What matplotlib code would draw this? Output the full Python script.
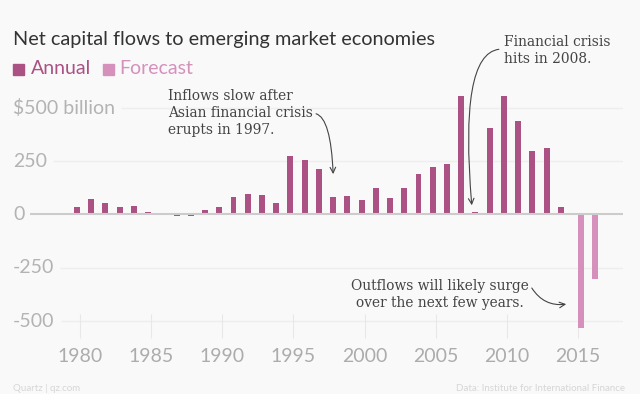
import matplotlib
matplotlib.use("Agg")
import matplotlib.pyplot as plt
from matplotlib.patches import Rectangle
import numpy as np

# net capital flows, $ billion
years = list(range(1980, 2015))
annual = [36, 71, 54, 34, 40, 9, 2, -6, -9, 20,
          36, 81, 96, 93, 53, 276, 253, 214, 82, 85,
          67, 126, 75, 124, 188, 220, 236, 557, 9, 404,
          554, 436, 298, 312, 33]
fc_years = [2015, 2016]
forecast = [-534, -304]

yticks = [500, 250, 0, -250, -500]
ytick_labels = ["$500 billion", "250", "0", "-250", "-500"]
xticks = [1980, 1985, 1990, 1995, 2000, 2005, 2010, 2015]

c_annual = "#ab5184"
c_fc = "#d590bc"
bg = "#f9f9f9"
grey = "#acacac"
sans = "Lato"
serif = "DejaVu Serif"

fig = plt.figure(figsize=(6.4, 3.94), dpi=100, facecolor=bg)
ax = fig.add_axes([30/640, 1-338/394, 593/640, 258/394], facecolor=bg)

w = 0.42
ax.bar(np.array(years) - w/2, annual, width=w, color=c_annual, zorder=3)
ax.bar(np.array(fc_years) + w/2, forecast, width=w, color=c_fc, zorder=3)

ax.set_xlim(1976.49, 2018.16)
ax.set_ylim(-579.5, 630.3)
for s in ax.spines.values():
    s.set_visible(False)
ax.set_yticks([])
ax.set_xticks(xticks)
ax.set_xticklabels([str(x) for x in xticks], fontfamily=sans,
                   fontsize=14, color=grey)
ax.tick_params(axis="x", direction="in", length=17, width=0.8, color="#e8e8e8", pad=7)

# y labels sit left, gridlines start after them
fig.canvas.draw()
r = fig.canvas.get_renderer()
inv = ax.transData.inverted()
tr = matplotlib.transforms.blended_transform_factory(fig.transFigure, ax.transData)
for v, lab in zip(yticks, ytick_labels):
    t = fig.text(13/640, v, lab, fontfamily=sans, fontsize=14,
                 color="#b3b3b3", va="center", ha="left", transform=tr)
    bb = t.get_window_extent(r)
    x0 = inv.transform((bb.x1 + 6, 0))[0]
    if v == 0:
        ax.hlines(v, ax.get_xlim()[0], ax.get_xlim()[1], color="#cccccc", lw=1.5, zorder=4)
    else:
        ax.hlines(v, x0, ax.get_xlim()[1], color="#eeeeee", lw=1, zorder=1)

fig.text(13/640, 1-40/394, "Net capital flows to emerging market economies",
         fontfamily=sans, fontsize=14.3, color="#333333", va="center")
# legend
for x, col in [(13, c_annual), (103, c_fc)]:
    fig.patches.append(Rectangle((x/640, 1-75/394), 11/640, 11/394,
                                 transform=fig.transFigure, color=col))
fig.text(31/640, 1-69/394, "Annual", fontfamily=sans, fontsize=14, color=c_annual, va="center")
fig.text(119/640, 1-69/394, "Forecast", fontfamily=sans, fontsize=14, color=c_fc, va="center")

ann = dict(fontfamily=serif, fontsize=9.9, color="#444444", linespacing=1.3)
arrow = dict(arrowstyle="->", color="#444444", lw=0.8)

ax.text(1986.2, 476, "Inflows slow after\nAsian financial crisis\nerupts in 1997.", ha="left", va="center", **ann)
ax.annotate("", xy=(1997.8, 176), xytext=(1996.4, 474), annotation_clip=False,
            arrowprops=dict(connectionstyle="angle3,angleA=0,angleB=92", **arrow))

ax.text(2009.83, 768, "Financial crisis\nhits in 2008.", ha="left", va="center",
        clip_on=False, **ann)
ax.annotate("", xy=(2007.55, 30), xytext=(2009.63, 775), annotation_clip=False,
            arrowprops=dict(connectionstyle="angle3,angleA=180,angleB=95", **arrow))

ax.text(2005.3, -374, "Outflows will likely surge\nover the next few years.", ha="center", va="center", **ann)
ax.annotate("", xy=(2014.36, -419), xytext=(2011.65, -334), annotation_clip=False,
            arrowprops=dict(connectionstyle="arc3,rad=0.35", **arrow))

fig.text(13/640, 1-393/394, "Quartz | qz.com", fontfamily=sans, fontsize=7, color="#d6d6d6", va="bottom")
fig.text(625/640, 1-393/394, "Data: Institute for International Finance", fontfamily=sans,
         fontsize=7, color="#d6d6d6", va="bottom", ha="right")

fig.savefig("out.png", dpi=100, facecolor=bg)
